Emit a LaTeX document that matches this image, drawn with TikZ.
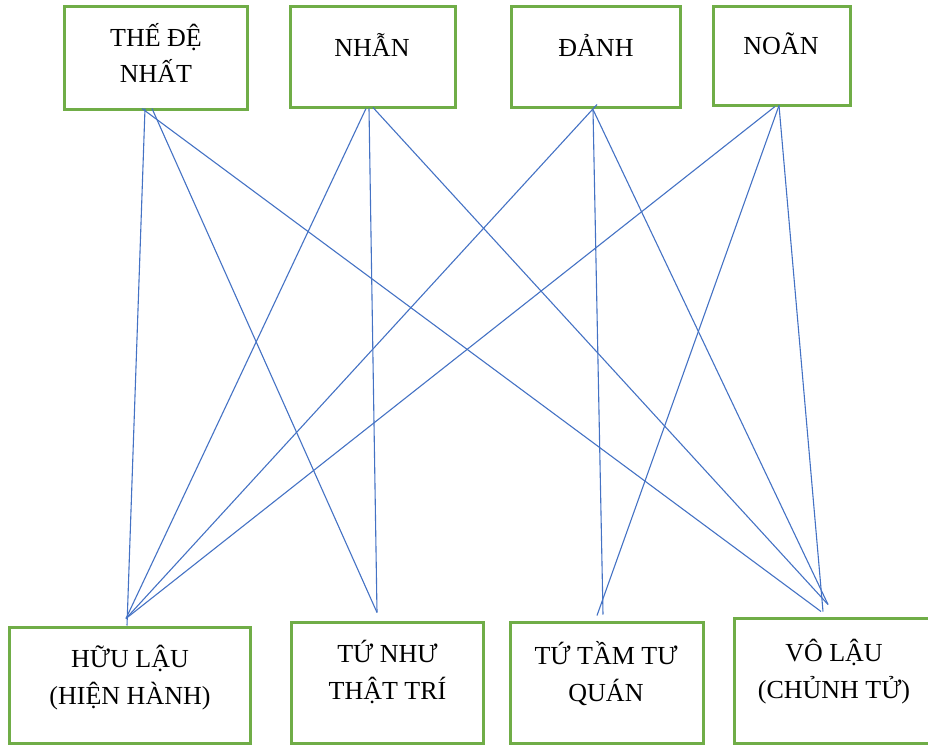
\documentclass[tikz,border=0pt]{standalone}
\usepackage{fontspec}
\setmainfont{Liberation Serif}
\usetikzlibrary{calc}
\definecolor{boxgreen}{RGB}{112,173,71}
\definecolor{linkblue}{RGB}{68,114,196}
\newlength{\px}
\setlength{\px}{0.75pt}

\begin{document}
\begin{tikzpicture}[
    x=0.75pt, y=-0.75pt,
    box/.style={draw=boxgreen, line width=3\px, inner sep=0pt},
    lbl/.style={inner sep=0pt, anchor=base, align=center, font=\fontsize{19.5}{27.4}\selectfont},
    link/.style={draw=linkblue, line width=1.1\px}
]
\useasboundingbox (0,0) rectangle (928,745);

% Top row
\node[box, minimum width=183\px, minimum height=103\px] (t1) at (155.5,58.5) {};
\node[box, minimum width=165\px, minimum height=101\px] (t2) at (372.5,57.5) {};
\node[box, minimum width=169\px, minimum height=101\px] (t3) at (595.5,57.5) {};
\node[box, minimum width=137\px, minimum height=99\px] (t4) at (781.5,56.5) {};

\node[lbl] (t1txt) at (156,83) {THẾ ĐỆ\\NHẤT};
\node[lbl] (t2txt) at (372,57) {NHẪN};
\node[lbl] (t3txt) at (596,57) {ĐẢNH};
\node[lbl] (t4txt) at (781,55) {NOÃN};

% Bottom row
\node[box, minimum width=241\px, minimum height=116\px] (b1) at (129.5,685) {};
\node[box, minimum width=192\px, minimum height=121\px] (b2) at (387,682.5) {};
\node[box, minimum width=193\px, minimum height=121\px] (b3) at (606.5,682.5) {};
\node[box, minimum width=196\px, minimum height=125\px] (b4) at (832,680.5) {};

\node[lbl] (b1txt) at (130,704) {HỮU LẬU\\(HIỆN HÀNH)};
\node[lbl] (b2txt) at (387.5,699) {TỨ NHƯ\\THẬT TRÍ};
\node[lbl] (b3txt) at (606,701) {TỨ TẦM TƯ\\QUÁN};
\node[lbl] (b4txt) at (834,698) {VÔ LẬU\\(CHỦNH TỬ)};

% Line ends under the top boxes
\coordinate (t1a) at ($(t1.south)+(-13.5,-3)$);
\coordinate (t1b) at ($(t1.south)+(-10.5,-3)$);
\coordinate (t1c) at ($(t1.south)+(-3.5,-3)$);
\coordinate (t2a) at ($(t2.south)+(-6.5,-1)$);
\coordinate (t2b) at ($(t2.south)+(-3.5,-1)$);
\coordinate (t2c) at ($(t2.south)+(0.5,-2)$);
\coordinate (t3a) at ($(t3.south)+(1.5,-5)$);
\coordinate (t3b) at ($(t3.south)+(-2.5,0)$);
\coordinate (t4a) at ($(t4.south)+(-6.5,-1)$);
\coordinate (t4b) at ($(t4.south)+(-2.5,-2)$);

% Line ends above the bottom boxes
\coordinate (b1a) at ($(b1.north)+(-2.5,0)$);
\coordinate (b1b) at ($(b1.north)+(-3.5,-7)$);
\coordinate (b2a) at ($(b2.north)+(-10,-8)$);
\coordinate (b3a) at ($(b3.north)+(-3.5,-6)$);
\coordinate (b3b) at ($(b3.north)+(-9.5,-5)$);
\coordinate (b4a) at ($(b4.north)+(-11,-5)$);
\coordinate (b4b) at ($(b4.north)+(-4,-12)$);
\coordinate (b4c) at ($(b4.north)+(-9,-5)$);

% Links
\draw[link] (t1b) -- (b1a);
\draw[link] (t1c) -- (b2a);
\draw[link] (t1a) -- (b4a);
\draw[link] (t2a) -- (b1b);
\draw[link] (t2b) -- (b2a);
\draw[link] (t2c) -- (b4b);
\draw[link] (t3a) -- (b1b);
\draw[link] (t3b) -- (b3a);
\draw[link] (t3b) -- (b4b);
\draw[link] (t4a) -- (b1b);
\draw[link] (t4b) -- (b3b);
\draw[link] (t4b) -- (b4c);

\end{tikzpicture}
\end{document}
